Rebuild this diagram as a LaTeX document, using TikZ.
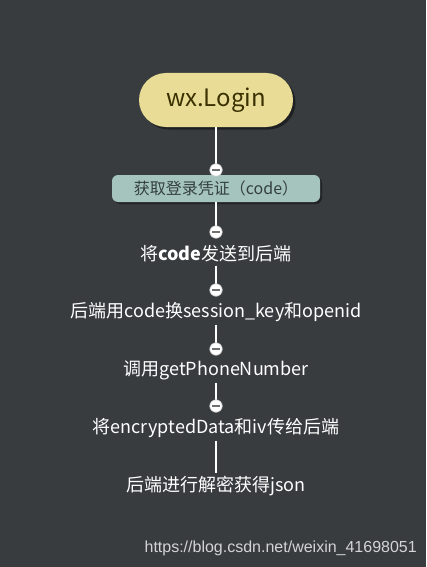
\documentclass[tikz,border=0pt]{standalone}
\usepackage{fontspec}
\setmainfont{Noto Sans CJK SC}
\newfontfamily\urlfont{Liberation Sans}
\usetikzlibrary{shadows}
\definecolor{bg}{HTML}{383C3F}
\definecolor{pill}{HTML}{E8DC96}
\definecolor{pilltext}{HTML}{3A3000}
\definecolor{boxfill}{HTML}{A6C4BE}
\definecolor{boxtext}{HTML}{33403D}
\definecolor{minus}{HTML}{707070}
\tikzset{
  conn/.style={draw=white, line width=2.6pt},
  marker/.style={circle, fill=white, draw=minus!40, line width=0.6pt, minimum size=12.5pt, inner sep=0pt,
    path picture={\draw[minus, line width=1.6pt] ([xshift=-4pt]path picture bounding box.center) -- ([xshift=4pt]path picture bounding box.center);}},
  steptext/.style={text=white, font=\fontsize{18}{20}\selectfont, inner sep=3pt},
}
\begin{document}
\begin{tikzpicture}[x=1pt,y=-1pt]
\fill[bg] (0,0) rectangle (426,567);
\useasboundingbox (0,0) rectangle (426,567);

\node[rounded corners=27pt, fill=pill, minimum width=154pt, minimum height=54pt, text=pilltext,
  font=\fontsize{24}{26}\selectfont, drop shadow={shadow xshift=2.5pt, shadow yshift=-2.5pt, fill=black, opacity=0.45}] (login) at (216,100) {wx.Login};

\node[rounded corners=6pt, fill=boxfill, minimum width=208pt, minimum height=27pt, text=boxtext,
  font=\fontsize{16}{18}\selectfont, drop shadow={shadow xshift=2pt, shadow yshift=-2pt, fill=black, opacity=0.4}] (code) at (216,188.5) {获取登录凭证（code）};

\node[steptext] (t1) at (216,254) {将\textbf{code}发送到后端};
\node[steptext] (t2) at (216,312) {后端用code换session\_key和openid};
\node[steptext] (t3) at (216,370) {调用getPhoneNumber};
\node[steptext] (t4) at (216,428) {将encryptedData和iv传给后端};
\node[steptext] (t5) at (216,486) {后端进行解密获得json};

\coordinate (m1c) at (216,170);
\coordinate (m2c) at (216,232);
\coordinate (m3c) at (216,290);
\coordinate (m4c) at (216,349);
\coordinate (m5c) at (216,406);

\draw[conn] (login.south) -- (m1c);
\draw[conn] (code.south) -- (m2c);
\draw[conn] (t1.south) -- (m3c);
\draw[conn] (t2.south) -- (m4c);
\draw[conn] (t3.south) -- (m5c);
\draw[conn] (t4.south) -- (t5.north);

\node[marker] (m1) at (m1c) {};
\node[marker] (m2) at (m2c) {};
\node[marker] (m3) at (m3c) {};
\node[marker] (m4) at (m4c) {};
\node[marker] (m5) at (m5c) {};

\node[text=white!78!bg, font=\urlfont\fontsize{16}{18}\selectfont, anchor=east, inner sep=0pt] (url) at (417,548) {https://blog.csdn.net/weixin\_41698051};
\end{tikzpicture}
\end{document}
